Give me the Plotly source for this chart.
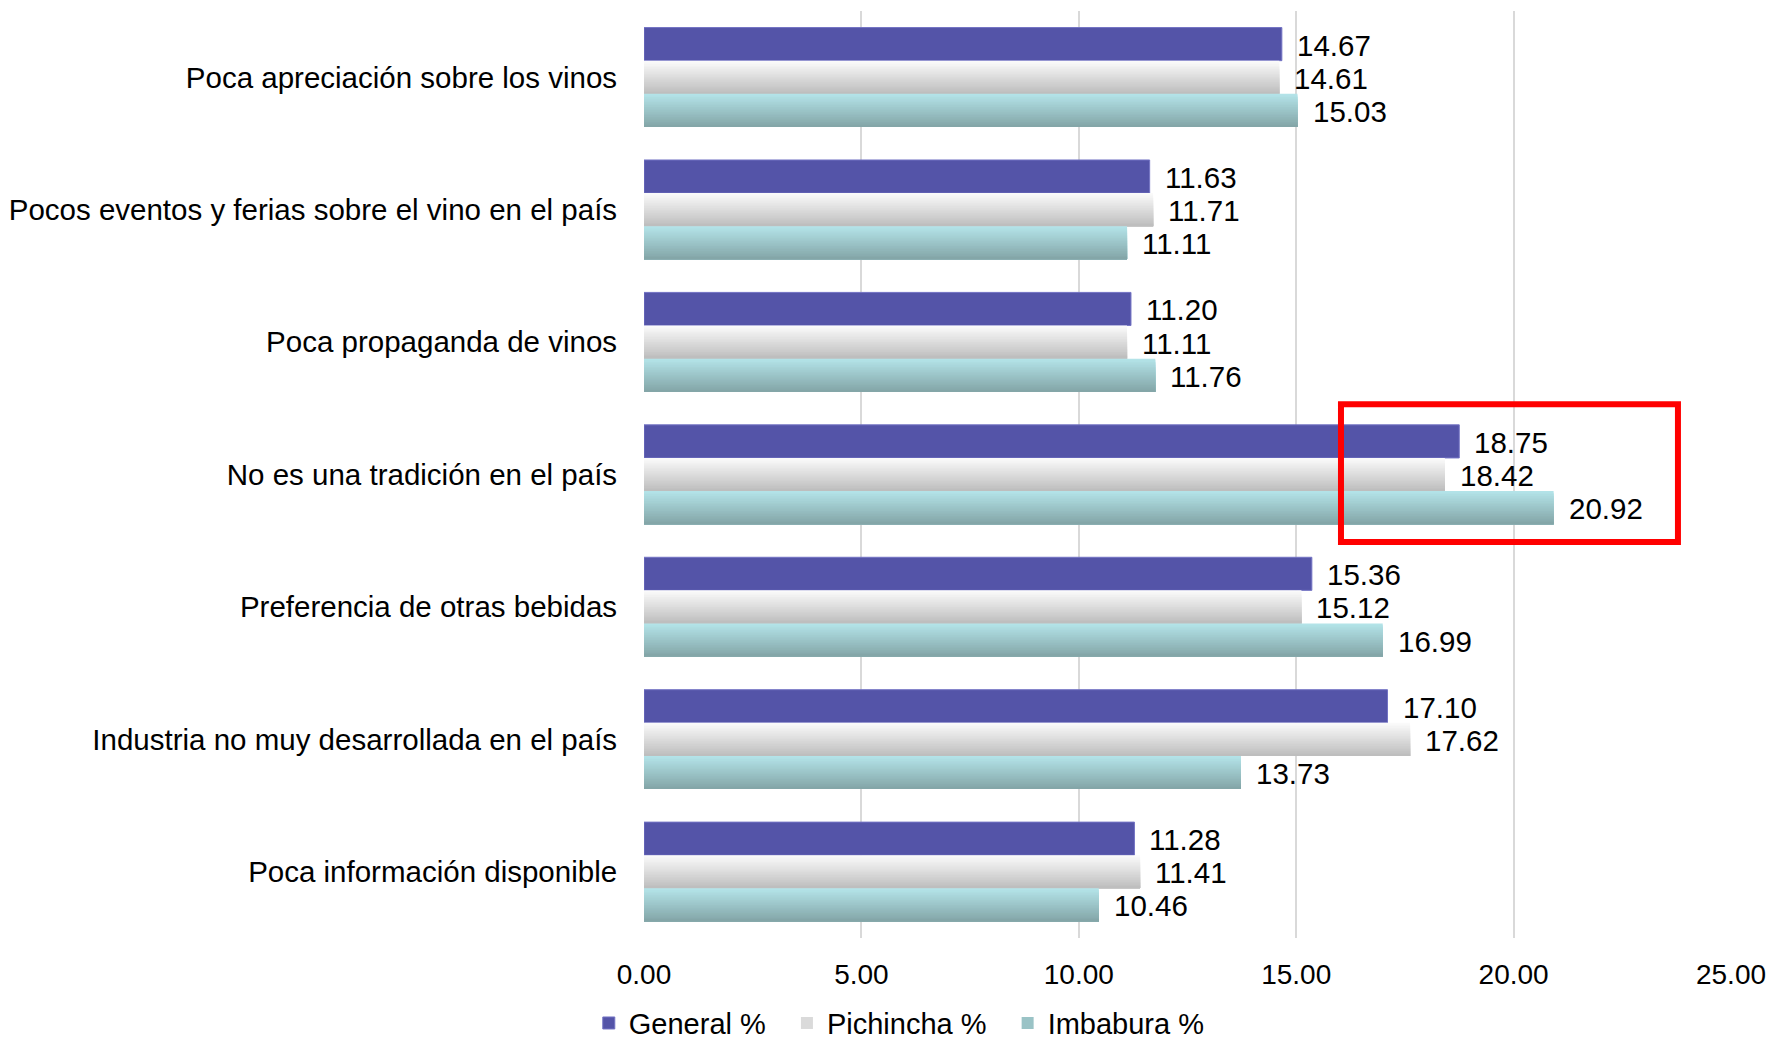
import plotly.graph_objects as go

# Survey data: reasons for low wine consumption (percent of answers)
categories = [
    "Poca apreciación sobre los vinos",
    "Pocos eventos y ferias sobre el vino en el país",
    "Poca propaganda de vinos",
    "No es una tradición en el país",
    "Preferencia de otras bebidas",
    "Industria no muy desarrollada en el país",
    "Poca información disponible",
]
general = [14.67, 11.63, 11.20, 18.75, 15.36, 17.10, 11.28]
pichincha = [14.61, 11.71, 11.11, 18.42, 15.12, 17.62, 11.41]
imbabura = [15.03, 11.11, 11.76, 20.92, 16.99, 13.73, 10.46]
x_ticks = [0, 5, 10, 15, 20, 25]

PAD = "\u00a0\u00a0"
series = [
    ("General %" + PAD, general, ("#5454A8", "#5454A8")),
    ("Pichincha %" + PAD, pichincha, ("#FAFAFA", "#BEBEBE")),
    ("Imbabura %", imbabura, ("#B3E3E8", "#84A6A8")),
]

FONT = "Liberation Sans, Arial, sans-serif"
BAR_W = 0.25       # thickness of each bar in category units
STRIPS = 20        # bands used to shade each bar from top to bottom


def mix(c1, c2, t):
    a = [int(c1[i:i + 2], 16) for i in (1, 3, 5)]
    b = [int(c2[i:i + 2], 16) for i in (1, 3, 5)]
    return "rgb(%d,%d,%d)" % tuple(round(a[k] + (b[k] - a[k]) * t) for k in range(3))


ypos = list(range(len(categories)))
fig = go.Figure()

for s_idx, (name, values, (top, bottom)) in enumerate(series):
    base = -1.5 * BAR_W + s_idx * BAR_W
    n = 1 if top == bottom else STRIPS
    step = BAR_W / n
    for k in range(n):
        t = k / max(n - 1, 1)
        # each band runs from its own top edge down to the bar's bottom edge,
        # so later bands cover earlier ones without seams
        fig.add_trace(go.Bar(
            x=values, y=ypos, orientation="h",
            offset=base + k * step, width=BAR_W - k * step,
            marker=dict(color=mix(top, bottom, t),
                        line=dict(width=1 if n == 1 else 0, color="#7373C4")),
            name=name, legendgroup=name,
            showlegend=(k == n // 2), legendrank=s_idx + 1,
            hoverinfo="skip",
        ))
    # value labels to the right of each bar end
    for i, v in enumerate(values):
        fig.add_annotation(
            x=v, y=i + base + BAR_W / 2, text=f"{v:.2f}",
            xanchor="left", yanchor="middle", xshift=13, yshift=-1,
            showarrow=False,
            font=dict(family=FONT, size=29.5, color="#000000"),
        )

# highlight box around the "tradición" group
box_x = (16.03, 23.78)
box_y = (3 - 0.53, 3 + 0.51)
fig.add_shape(
    type="rect", xref="x", yref="y",
    x0=box_x[0], x1=box_x[1], y0=box_y[0], y1=box_y[1],
    line=dict(color="#FF0000", width=6),
)

fig.update_layout(
    width=1772, height=1044,
    margin=dict(l=644, r=41, t=11, b=106),
    barmode="overlay",
    plot_bgcolor="white", paper_bgcolor="white",
    font=dict(family=FONT, size=28, color="#000000"),
    showlegend=True,
    legend=dict(
        orientation="h", xref="container", yref="container",
        x=0.5075, xanchor="center", y=0.02, yanchor="middle",
        font=dict(family=FONT, size=29, color="#000000"),
        itemwidth=30, tracegroupgap=0,
    ),
)
fig.update_xaxes(
    range=[0, 25], tickvals=x_ticks, ticktext=[f"{v:.2f}" for v in x_ticks],
    showgrid=True, gridcolor="#D9D9D9", gridwidth=2,
    zeroline=False, showline=False, automargin=False,
    ticks="outside", ticklen=11, tickcolor="rgba(0,0,0,0)",
    tickfont=dict(family=FONT, size=28, color="#000000"),
)
fig.update_yaxes(
    range=[len(categories) - 0.5, -0.5],
    tickvals=ypos, ticktext=categories,
    showgrid=False, zeroline=False, showline=False, automargin=False,
    ticks="outside", ticklen=20, tickcolor="rgba(0,0,0,0)",
    tickfont=dict(family=FONT, size=29.5, color="#000000"),
)

fig.write_html("out.html")
